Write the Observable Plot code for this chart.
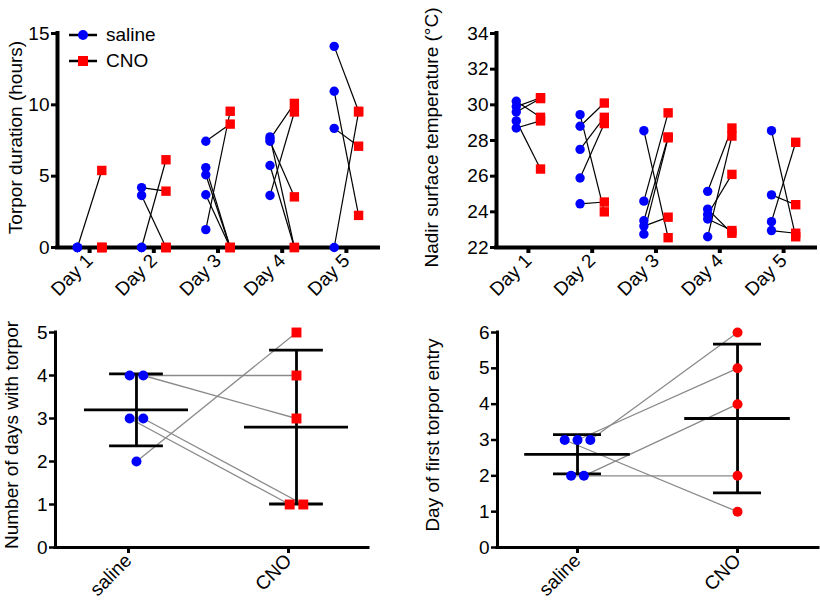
<!DOCTYPE html>
<html><head><meta charset="utf-8">
<script src="https://cdn.jsdelivr.net/npm/d3@7"></script>
<script src="https://cdn.jsdelivr.net/npm/@observablehq/plot@0.6"></script>
<style>
body{margin:0;background:#fff;font-family:"Liberation Sans",Arial,Helvetica,sans-serif;}
#fig{position:relative;width:820px;height:602px;overflow:hidden;background:#fff;}
.panel{position:absolute;}
.legend{position:absolute;left:68px;top:22px;font-size:19px;color:#000;line-height:26px;}
.legend div{display:flex;align-items:center;height:26px;}
.legend svg{margin-right:8px;}
</style></head><body><div id="fig"></div>
<script>
// ---- data ----
const days = ["Day 1", "Day 2", "Day 3", "Day 4", "Day 5"];
const groups = ["saline", "CNO"];
// Torpor duration (hours), paired per animal: saline[i][j] -> CNO[i][j]
const torporSaline = [[0, 0, 0, 0, 0], [4.2, 3.65, 0, 0, 0], [7.45, 1.25, 5.6, 5.1, 3.7], [7.6, 3.65, 7.45, 7.75, 5.75], [14.1, 10.95, 8.35, 0]];
const torporCNO    = [[5.4, 0, 0, 0, 0], [3.95, 0, 6.15, 0, 0], [8.65, 9.55, 0, 0, 0], [10.1, 9.5, 3.55, 0, 0], [9.55, 2.25, 7.1, 9.5]];
// Nadir surface temperature (°C)
const tempSaline = [[30.2, 29.9, 29.6, 29.1, 28.7], [28.8, 27.5, 25.9, 29.45, 24.45], [28.55, 24.6, 23.5, 23.2, 22.75], [25.15, 22.6, 23.85, 24.15, 23.6], [28.55, 24.95, 23.45, 22.95]];
const tempCNO    = [[29.3, 30.4, 30.35, 26.4, 29.1], [30.1, 29.3, 28.95, 24.0, 24.55], [22.55, 29.55, 28.2, 23.7, 28.15], [28.7, 28.25, 26.1, 22.8, 22.95], [22.6, 24.4, 27.9, 22.8]];
// Number of days with torpor (paired)
const nDaysSaline = [4, 4, 3, 3, 2];
const nDaysCNO    = [4, 3, 1, 1, 5];
// Day of first torpor entry (paired)
const firstSaline = [3, 3, 3, 2, 2];
const firstCNO    = [1, 5, 6, 2, 4];

// ---- helpers ----
const FONT = "'Liberation Sans', Arial, Helvetica, sans-serif";
const BLUE = "#0000ff", RED = "#ff0000";
function pairs(sal, cno) {
  const out = [];
  sal.forEach((arr, i) => arr.forEach((v, j) => out.push({day: i, s: v, c: cno[i][j]})));
  return out;
}
function spread(values, step) {
  const counts = d3.rollup(values, v => v.length, d => d);
  const seen = new Map();
  return values.map(v => {
    const n = counts.get(v), k = seen.get(v) || 0;
    seen.set(v, k + 1);
    return (k - (n - 1) / 2) * step;
  });
}
function place(node, left, top) {
  const d = document.createElement("div");
  d.className = "panel"; d.style.left = left + "px"; d.style.top = top + "px";
  d.appendChild(node);
  document.getElementById("fig").appendChild(d);
}
const baseStyle = {fontFamily: FONT, color: "#000", background: "transparent", overflow: "visible"};
const intFmt = d3.format("d");

// ---- panel 1 / 2: paired per-day plots ----
function dayPanel({data, yDomain, yTicks, marginLeft, marginRight, label, labelDx}) {
  const off = 0.19;
  return Plot.plot({
    width: 410, height: 300,
    marginLeft, marginRight, marginTop: 33, marginBottom: 53,
    style: baseStyle,
    x: {type: "linear", domain: [-0.5, 4.5]},
    y: {domain: yDomain},
    marks: [
      Plot.link(data, {x1: d => d.day - off, y1: "s", x2: d => d.day + off, y2: "c", stroke: "#000", strokeWidth: 1.2}),
      Plot.ruleY([yDomain[0]], {strokeWidth: 4, strokeLinecap: "square"}),
      Plot.ruleX([-0.5], {strokeWidth: 4, strokeLinecap: "square"}),
      Plot.axisX({ticks: [0, 1, 2, 3, 4], tickFormat: i => days[i], tickRotate: -45, tickSize: 6, tickPadding: 4, strokeWidth: 4, fontSize: 19, label: null}),
      Plot.axisY({ticks: yTicks, tickFormat: intFmt, tickSize: 6, tickPadding: 2, strokeWidth: 3, fontSize: 19, label: null}),
      Plot.text([label], {frameAnchor: "left", textAnchor: "middle", lineAnchor: "middle", rotate: -90, dx: labelDx, dy: -3, fontSize: 19}),
      Plot.dot(data, {x: d => d.day - off, y: "s", r: 4.7, fill: BLUE}),
      Plot.dot(data, {x: d => d.day + off, y: "c", symbol: "square", r: 5.3, fill: RED})
    ]
  });
}

place(dayPanel({
  data: pairs(torporSaline, torporCNO), yDomain: [0, 15], yTicks: [0, 5, 10, 15],
  marginLeft: 57, marginRight: 32, label: "Torpor duration (hours)", labelDx: -42
}), 0, 0);

place(dayPanel({
  data: pairs(tempSaline, tempCNO), yDomain: [22, 34], yTicks: d3.range(22, 35, 2),
  marginLeft: 86, marginRight: 5, label: "Nadir surface temperature (°C)", labelDx: -65
}), 410, 0);

// legend for panel 1
const leg = document.createElement("div");
leg.className = "legend";
leg.innerHTML = groups.map((g, i) => `<div><svg width="30" height="20">
  <line x1="1" x2="29" y1="10" y2="10" stroke="#000" stroke-width="2.5"/>
  ${i === 0 ? `<circle cx="15" cy="10" r="5" fill="${BLUE}"/>` : `<rect x="10" y="5" width="10" height="10" fill="${RED}"/>`}
  </svg><span>${g}</span></div>`).join("");
document.getElementById("fig").appendChild(leg);

// ---- panel 3 / 4: two-group paired with mean ± SD ----
function groupPanel({sal, cno, yMax, marginLeft, marginRight, domain, shift, step, meanHalf, capHalf, salMarker, cnoMarker, label, labelDx}) {
  const sx = spread(sal, step), cx = spread(cno, step);
  const data = sal.map((v, i) => ({s: v, c: cno[i], xs: 0 + shift + sx[i], xc: 1 + shift + cx[i]}));
  const stats = [sal, cno].map((vals, g) => ({g: g + shift, m: d3.mean(vals), sd: d3.deviation(vals)}));
  return Plot.plot({
    width: 410, height: 302,
    marginLeft, marginRight, marginTop: 32, marginBottom: 55,
    style: baseStyle,
    x: {type: "linear", domain},
    y: {domain: [0, yMax]},
    marks: [
      Plot.link(data, {x1: "xs", y1: "s", x2: "xc", y2: "c", stroke: "#8a8a8a", strokeWidth: 1.3}),
      Plot.ruleY(stats, {x1: d => d.g - meanHalf, x2: d => d.g + meanHalf, y: "m", strokeWidth: 2.8}),
      Plot.ruleX(stats, {x: "g", y1: d => d.m - d.sd, y2: d => d.m + d.sd, strokeWidth: 2.8}),
      Plot.ruleY(stats, {x1: d => d.g - capHalf, x2: d => d.g + capHalf, y: d => d.m + d.sd, strokeWidth: 2.8}),
      Plot.ruleY(stats, {x1: d => d.g - capHalf, x2: d => d.g + capHalf, y: d => d.m - d.sd, strokeWidth: 2.8}),
      Plot.ruleY([0], {strokeWidth: 3, strokeLinecap: "square"}),
      Plot.ruleX([domain[0]], {strokeWidth: 3, strokeLinecap: "square"}),
      Plot.axisX({ticks: [0, 1], tickFormat: i => groups[i], tickRotate: -45, tickSize: 6, tickPadding: 4, strokeWidth: 3, fontSize: 19, label: null}),
      Plot.axisY({ticks: d3.range(0, yMax + 1), tickFormat: intFmt, tickSize: 6, tickPadding: 2, strokeWidth: 2.5, fontSize: 19, label: null}),
      Plot.text([label], {frameAnchor: "left", textAnchor: "middle", lineAnchor: "middle", rotate: -90, dx: labelDx, dy: -5, fontSize: 19}),
      Plot.dot(data, {x: "xs", y: "s", r: 5, fill: BLUE, symbol: salMarker}),
      Plot.dot(data, {x: "xc", y: "c", r: cnoMarker === "square" ? 5.6 : 5, fill: RED, symbol: cnoMarker})
    ]
  });
}

place(groupPanel({
  sal: nDaysSaline, cno: nDaysCNO, yMax: 5, marginLeft: 55, marginRight: 42,
  domain: [-0.456, 1.5], shift: 0.05, step: 0.085, meanHalf: 0.325, capHalf: 0.168,
  salMarker: "circle", cnoMarker: "square", label: "Number of days with torpor", labelDx: -44
}), 0, 300);

place(groupPanel({
  sal: firstSaline, cno: firstCNO, yMax: 6, marginLeft: 87, marginRight: 2,
  domain: [-0.5, 1.506], shift: 0, step: 0.08, meanHalf: 0.33, capHalf: 0.15,
  salMarker: "circle", cnoMarker: "circle", label: "Day of first torpor entry", labelDx: -65
}), 410, 300);
</script>
</body></html>
